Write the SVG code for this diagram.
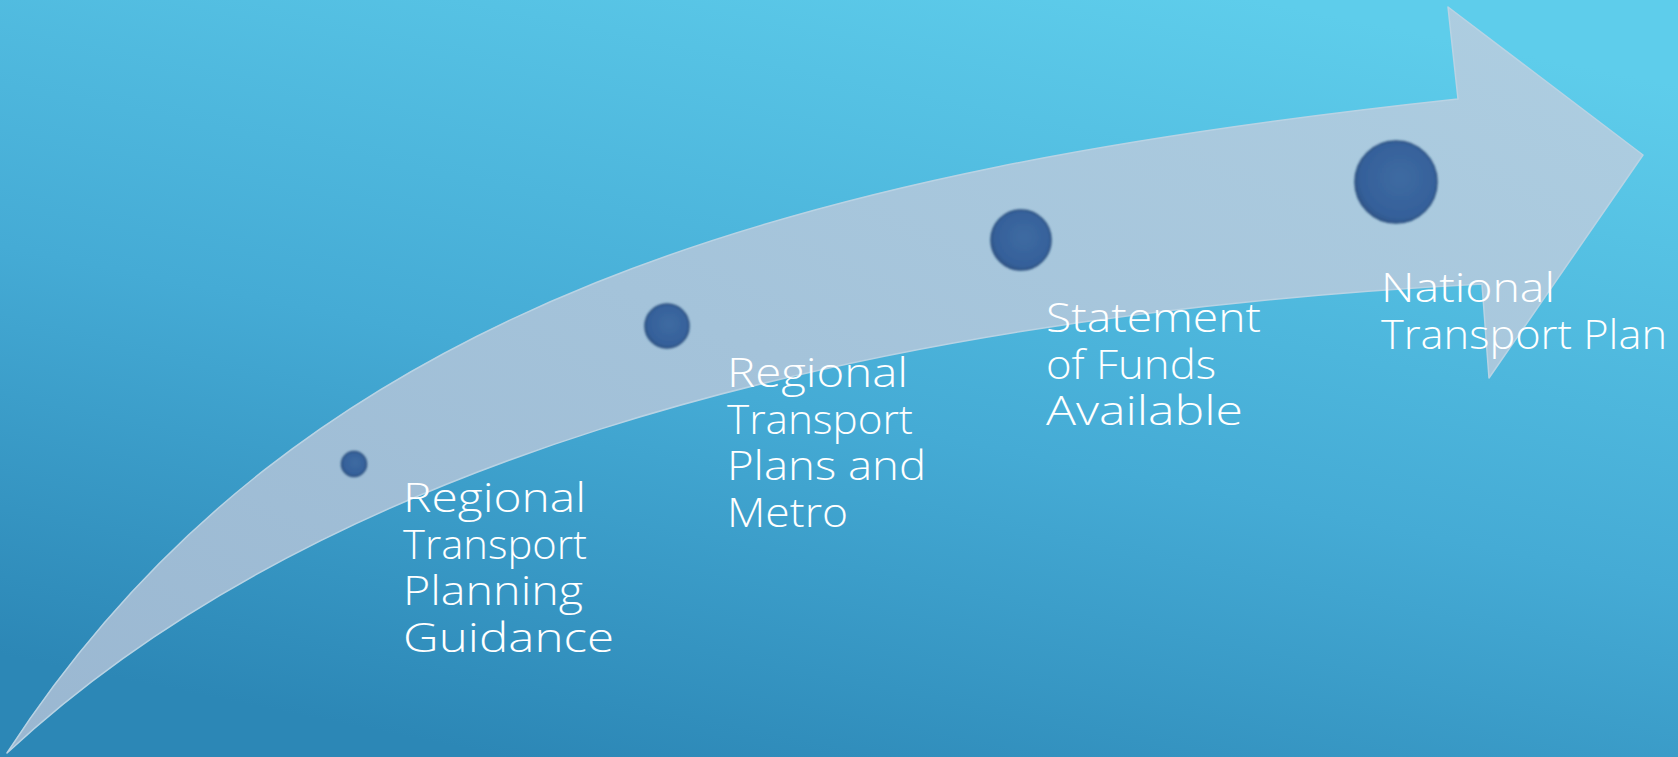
<svg xmlns="http://www.w3.org/2000/svg" width="1678" height="757" viewBox="0 0 1678 757">
  <style>
    .lbl { font-family: "Open Sans", "Liberation Sans", sans-serif; font-weight: 300; font-size: 41px; fill: #ffffff; }
    .dot { fill: url(#dotGrad); stroke: #2a4d7c; stroke-width: 1.5; filter: url(#soft); }
  </style>
  <defs>
    <linearGradient id="bgGrad" x1="0.75" y1="0" x2="0.3" y2="1">
      <stop offset="0" stop-color="#5ecdeb"/>
      <stop offset="0.55" stop-color="#45abd5"/>
      <stop offset="1" stop-color="#2c87b6"/>
    </linearGradient>
    <linearGradient id="arrowGrad" x1="0" y1="1" x2="1" y2="0">
      <stop offset="0" stop-color="#9ab7d1"/>
      <stop offset="0.5" stop-color="#a4c3da"/>
      <stop offset="1" stop-color="#aecee1"/>
    </linearGradient>
    <radialGradient id="dotGrad" cx="0.55" cy="0.45" r="0.6">
      <stop offset="0" stop-color="#3e6ba2"/>
      <stop offset="0.8" stop-color="#35609a"/>
      <stop offset="1" stop-color="#2c5285"/>
    </radialGradient>
    <filter id="soft" x="-20%" y="-20%" width="140%" height="140%">
      <feGaussianBlur stdDeviation="0.8"/>
    </filter>
  </defs>

  <rect x="0" y="0" width="1678" height="757" fill="url(#bgGrad)"/>

  <g id="connectors">
    <path id="arrow" d="M 7 753 C 300 300, 800 170, 1458 99 L 1448 7 L 1643 155 L 1489 378 L 1482 284 C 800 320, 300 480, 7 753 Z"
          fill="url(#arrowGrad)" stroke="#b9d3e4" stroke-width="1.5" stroke-linejoin="round"/>
  </g>

  <g id="node-rtpg">
    <circle class="dot" cx="354" cy="464" r="12.5"/>
    <text class="lbl" x="403" y="512" textLength="183" lengthAdjust="spacingAndGlyphs">Regional</text>
    <text class="lbl" x="403" y="558.5" textLength="184" lengthAdjust="spacingAndGlyphs">Transport</text>
    <text class="lbl" x="403" y="605" textLength="180" lengthAdjust="spacingAndGlyphs">Planning</text>
    <text class="lbl" x="403" y="651.5" textLength="211" lengthAdjust="spacingAndGlyphs">Guidance</text>
  </g>

  <g id="node-rtp-metro">
    <circle class="dot" cx="667" cy="326" r="22"/>
    <text class="lbl" x="727" y="387" textLength="181" lengthAdjust="spacingAndGlyphs">Regional</text>
    <text class="lbl" x="727" y="433.5" textLength="186" lengthAdjust="spacingAndGlyphs">Transport</text>
    <text class="lbl" x="727" y="480" textLength="199" lengthAdjust="spacingAndGlyphs">Plans and</text>
    <text class="lbl" x="727" y="526.5" textLength="121" lengthAdjust="spacingAndGlyphs">Metro</text>
  </g>

  <g id="node-funds">
    <circle class="dot" cx="1021" cy="240" r="30"/>
    <text class="lbl" x="1046" y="332" textLength="215" lengthAdjust="spacingAndGlyphs">Statement</text>
    <text class="lbl" x="1046" y="378.5" textLength="170" lengthAdjust="spacingAndGlyphs">of Funds</text>
    <text class="lbl" x="1046" y="425" textLength="197" lengthAdjust="spacingAndGlyphs">Available</text>
  </g>

  <g id="node-ntp">
    <circle class="dot" cx="1396" cy="182" r="41"/>
    <text class="lbl" x="1381" y="302" textLength="174" lengthAdjust="spacingAndGlyphs">National</text>
    <text class="lbl" x="1381" y="348.5" textLength="286" lengthAdjust="spacingAndGlyphs">Transport Plan</text>
  </g>
</svg>
